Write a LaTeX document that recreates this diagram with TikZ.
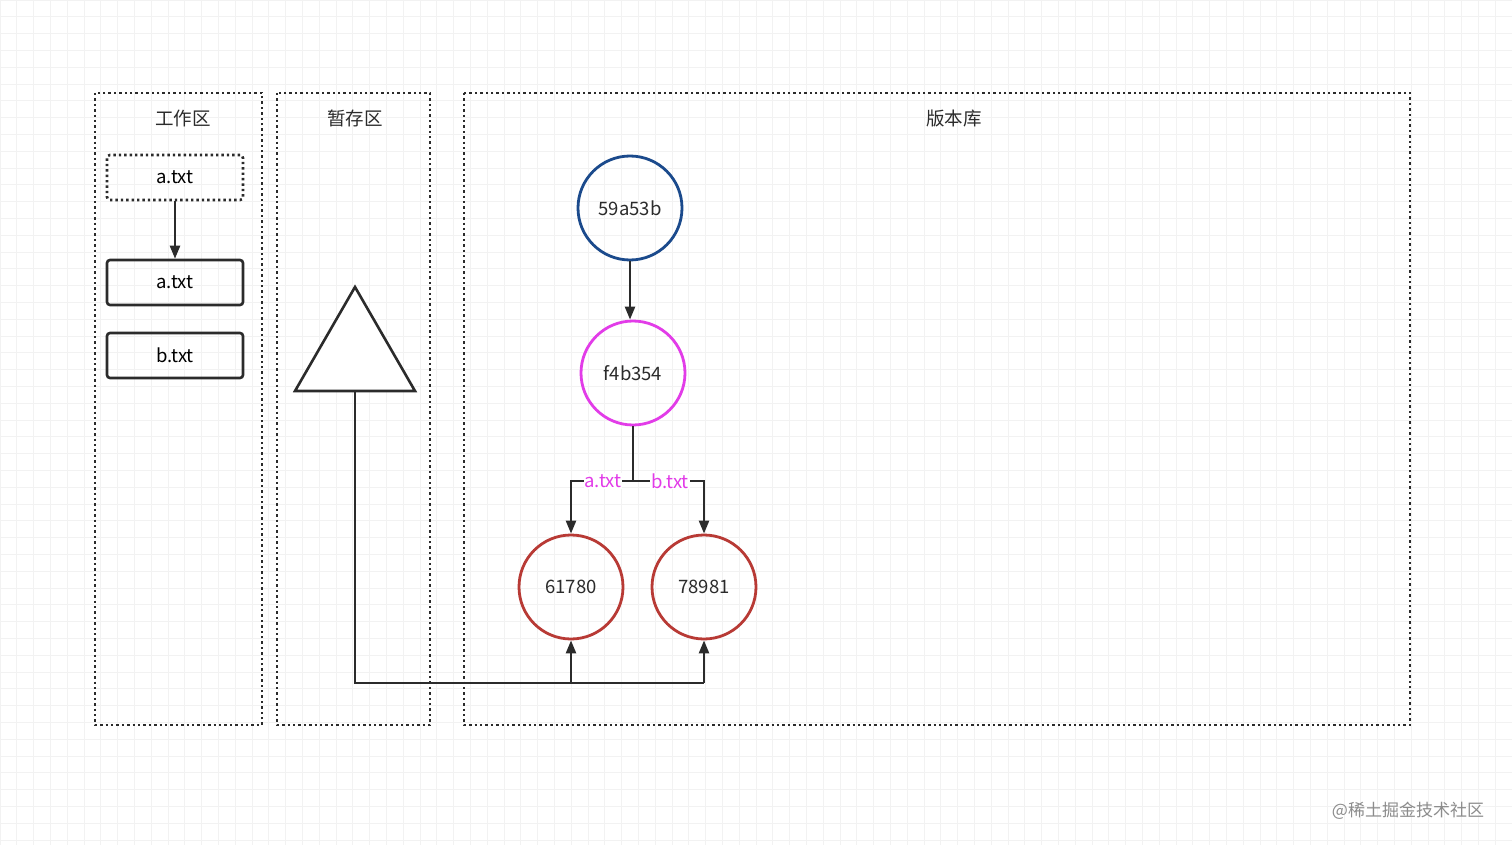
\documentclass[tikz,border=0pt]{standalone}
\usepackage{fontspec}
\setmainfont{Noto Sans CJK SC}
\usetikzlibrary{arrows.meta}
\definecolor{blu}{HTML}{1B4A8C}
\definecolor{mag}{HTML}{E23CE8}
\definecolor{rd}{HTML}{B83A35}
\definecolor{ln}{HTML}{2B2B2B}
\begin{document}
\begin{tikzpicture}[x=1pt,y=-1pt,font=\fontsize{18.5}{20}\selectfont,
  area/.style={draw=ln,line width=2.4pt,dash pattern=on 2.4pt off 3pt},
  file/.style={draw=ln,line width=2.6pt,rounded corners=3pt,minimum width=136pt,minimum height=45pt},
  commit/.style={circle,line width=2.8pt,minimum size=104pt,inner sep=0pt,text=ln},
  arr/.style={draw=ln,line width=2.4pt,-{Triangle[length=13pt,width=10pt]}},
  lbl/.style={text=mag,fill=white,inner sep=1pt}]
\useasboundingbox (0,0) rectangle (1512,845);
\fill[white] (0,0) rectangle (1512,845);
\foreach \x in {0,16.8,...,1512} \draw[black!5,line width=0.8pt] (\x,0)--(\x,845);
\foreach \y in {0,16.8,...,845} \draw[black!5,line width=0.8pt] (0,\y)--(1512,\y);
\draw[area] (95,93) rectangle (262,725);
\draw[area] (277,93) rectangle (430,725);
\draw[area] (464,93) rectangle (1410,725);
\node[text=ln] (t1) at (183,118) {工作区};
\node[text=ln] (t2) at (355,118) {暂存区};
\node[text=ln] (t3) at (954,118) {版本库};
\node[file,dash pattern=on 2.4pt off 3pt] (wa) at (175,177.5) {a.txt};
\node[file] (sa) at (175,282.5) {a.txt};
\node[file] (sb) at (175,355.5) {b.txt};
\draw[arr] (wa) -- (sa);
\node[commit,draw=blu] (c1) at (630,208) {59a53b};
\node[commit,draw=mag] (c2) at (633,373) {f4b354};
\node[commit,draw=rd] (c3) at (571,587) {61780};
\node[commit,draw=rd] (c4) at (704,587) {78981};
\draw[arr] (c1) -- (c1|-c2.north);
\coordinate (j) at (633,481);
\draw[ln,line width=2.4pt] (c2.south) -- (j);
\draw[arr] (j) -- (571,481) -- (c3.north);
\draw[arr] (j) -- (704,481) -- (c4.north);
\node[lbl] (la) at (603,481) {a.txt};
\node[lbl] (lb) at (670,481) {b.txt};
\coordinate (ta) at (355,287);
\coordinate (tl) at (295,391);
\coordinate (tr) at (415,391);
\draw[ln,line width=2.6pt,fill=white] (ta)--(tl)--(tr)--cycle;
\coordinate (tb) at (355,391);
\coordinate (bb) at (571,683);
\draw[ln,line width=2.4pt] (tb) -- (355,683) -- (704,683);
\draw[arr] (bb) -- (c3.south);
\draw[arr] (704,683) -- (c4.south);
\node[text=black!45,font=\fontsize{17}{19}\selectfont] (wm) at (1408,811) {@稀土掘金技术社区};
\end{tikzpicture}
\end{document}
